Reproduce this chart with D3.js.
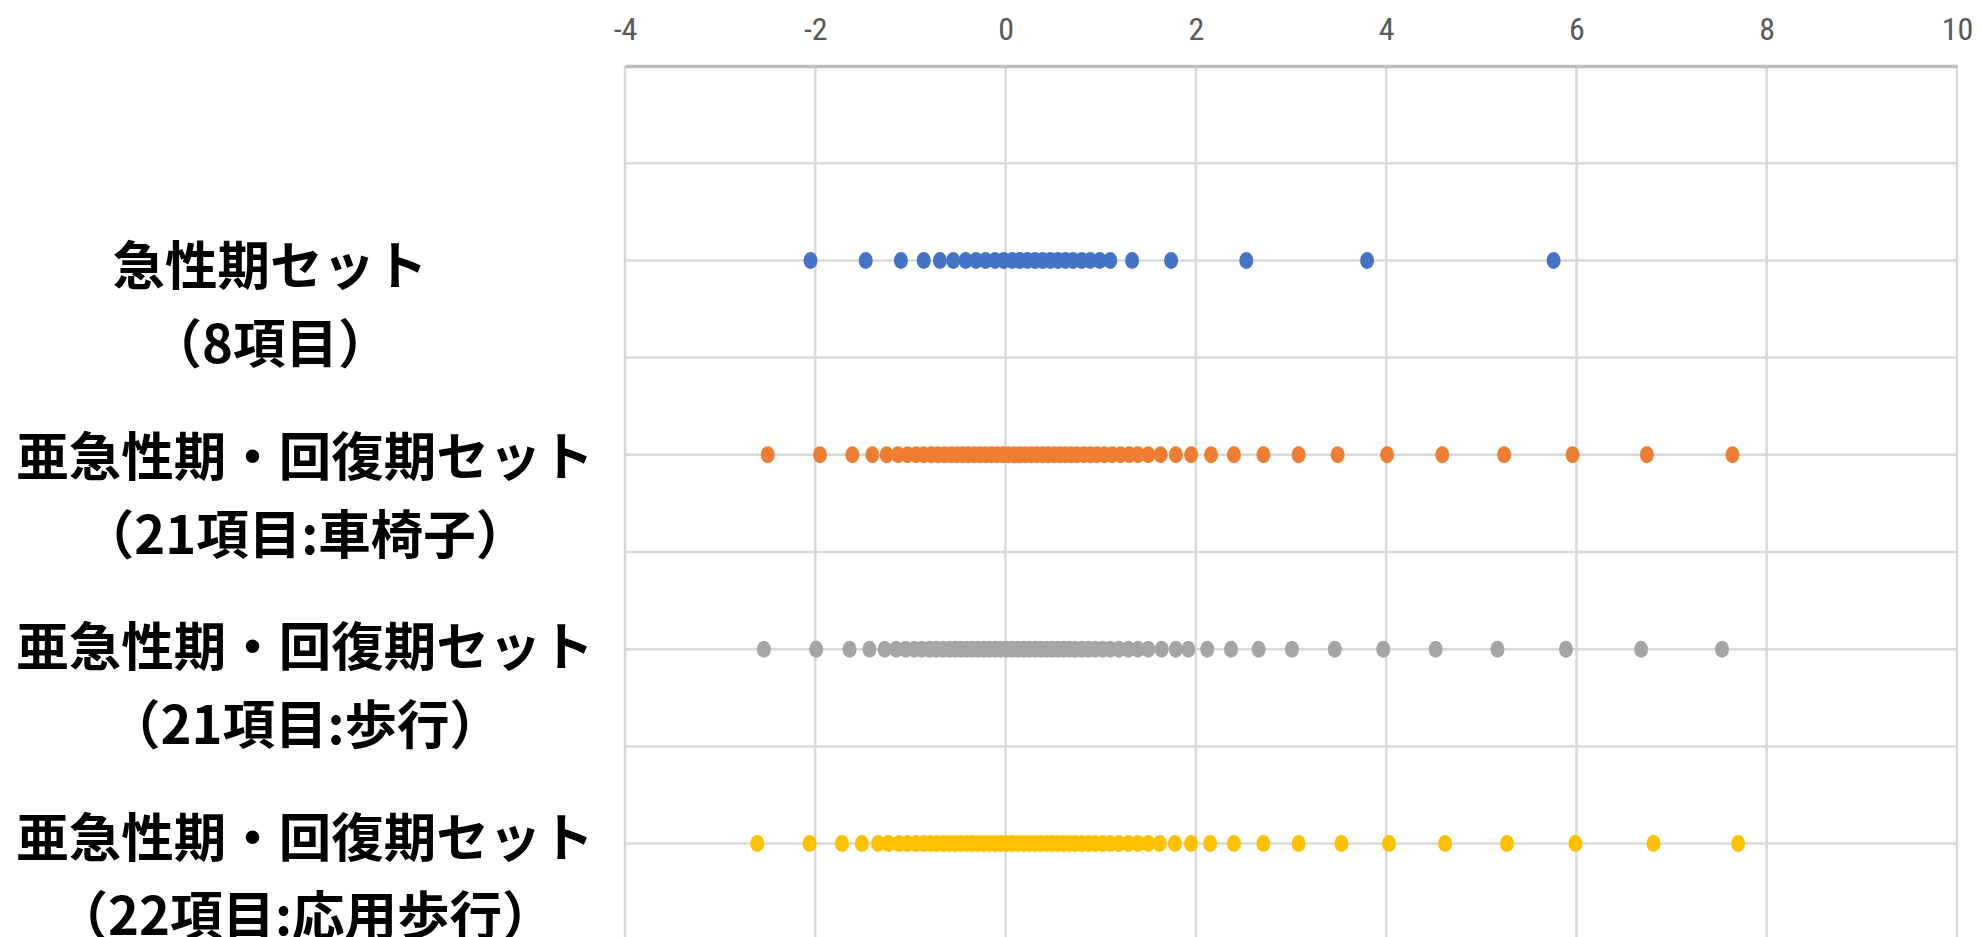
<!DOCTYPE html>
<html><head><meta charset="utf-8">
<script src="https://cdn.jsdelivr.net/npm/d3@7"></script>
<style>
html,body{margin:0;padding:0;background:#fff;overflow:hidden;}
</style>
</head><body>
<svg id="chart" width="1982" height="937"></svg>
<script>
// ---- data ----
const categoryLine1 = ["急性期セット", "亜急性期・回復期セット", "亜急性期・回復期セット", "亜急性期・回復期セット"];
const categoryLine2 = ["（8項目）", "（21項目:車椅子）", "（21項目:歩行）", "（22項目:応用歩行）"];
const categoryY = [4, 3, 2, 1];
const xTicks = [-4, -2, 0, 2, 4, 6, 8, 10];

const seriesAcute = [-2.05, -1.47, -1.10, -0.86, -0.69, -0.55, -0.42, -0.31, -0.21, -0.11, -0.02, 0.07, 0.15, 0.23, 0.31, 0.39, 0.47, 0.55, 0.63, 0.71, 0.80, 0.89, 0.99, 1.10, 1.33, 1.74, 2.53, 3.80, 5.76];
const seriesWheelchair = [-2.50, -1.95, -1.61, -1.40, -1.25, -1.13, -1.03, -0.94, -0.86, -0.78, -0.71, -0.64, -0.57, -0.51, -0.45, -0.39, -0.33, -0.27, -0.21, -0.15, -0.09, -0.03, 0.03, 0.09, 0.15, 0.21, 0.27, 0.33, 0.39, 0.45, 0.51, 0.57, 0.63, 0.69, 0.75, 0.82, 0.89, 0.96, 1.04, 1.12, 1.21, 1.30, 1.39, 1.50, 1.63, 1.79, 1.95, 2.16, 2.40, 2.71, 3.08, 3.49, 4.01, 4.59, 5.24, 5.96, 6.74, 7.64];
const seriesWalking = [-2.54, -1.99, -1.64, -1.43, -1.27, -1.15, -1.05, -0.96, -0.88, -0.80, -0.73, -0.66, -0.59, -0.53, -0.47, -0.41, -0.35, -0.29, -0.23, -0.17, -0.11, -0.05, 0.01, 0.07, 0.13, 0.19, 0.25, 0.31, 0.37, 0.43, 0.49, 0.55, 0.61, 0.67, 0.73, 0.80, 0.87, 0.94, 1.02, 1.10, 1.19, 1.29, 1.39, 1.50, 1.64, 1.79, 1.92, 2.12, 2.37, 2.66, 3.01, 3.46, 3.97, 4.52, 5.17, 5.89, 6.68, 7.53];
const seriesAppliedWalking = [-2.61, -2.06, -1.72, -1.51, -1.34, -1.23, -1.12, -1.03, -0.94, -0.86, -0.79, -0.72, -0.65, -0.59, -0.53, -0.47, -0.41, -0.35, -0.29, -0.23, -0.17, -0.11, -0.05, 0.01, 0.07, 0.13, 0.19, 0.25, 0.31, 0.37, 0.43, 0.49, 0.55, 0.61, 0.67, 0.73, 0.80, 0.87, 0.94, 1.02, 1.10, 1.19, 1.29, 1.39, 1.50, 1.62, 1.78, 1.95, 2.15, 2.40, 2.71, 3.08, 3.53, 4.03, 4.62, 5.27, 5.99, 6.81, 7.70];
const seriesColors = ["#4472C4", "#ED7D31", "#A5A5A5", "#FFC000"];

// ---- layout ----
const svg = d3.select("#chart");
const plotLeft = 625, plotRight = 1957, plotTop = 66;
const x = d3.scaleLinear().domain([-4, 10]).range([plotLeft, plotRight]);
const y = d3.scaleLinear().domain([5, 0]).range([plotTop, plotTop + 972]);

// vertical gridlines
svg.append("g").selectAll("line").data(xTicks).join("line")
  .attr("x1", d => x(d)).attr("x2", d => x(d))
  .attr("y1", y(5)).attr("y2", y(0))
  .attr("stroke", "#d9d9d9").attr("stroke-width", 2.5);

// horizontal gridlines
const yGrid = d3.range(1, 10).map(i => i * 0.5);
svg.append("g").selectAll("line").data(yGrid).join("line")
  .attr("x1", plotLeft).attr("x2", plotRight)
  .attr("y1", d => y(d)).attr("y2", d => y(d))
  .attr("stroke", "#d9d9d9").attr("stroke-width", 2.5);

// top axis
const axis = d3.axisTop(x).tickValues(xTicks).tickSize(0).tickPadding(0).tickFormat(d => String(d));
const gA = svg.append("g").attr("transform", `translate(0,${plotTop})`).call(axis);
gA.select(".domain").attr("stroke", "#bfbfbf").attr("stroke-width", 3.5);
gA.selectAll("text")
  .attr("y", -38).attr("dy", "0.36em")
  .attr("fill", "#595959")
  .style("font-family", "'Liberation Sans Narrow', 'Roboto Condensed', 'Liberation Sans', Arial, sans-serif")
  .style("font-size", "32px");

// points
const allSeries = [seriesAcute, seriesWheelchair, seriesWalking, seriesAppliedWalking];
allSeries.forEach((vals, i) => {
  svg.append("g").selectAll("ellipse").data(vals).join("ellipse")
    .attr("cx", d => x(d)).attr("cy", y(categoryY[i]))
    .attr("rx", 7).attr("ry", 8.5)
    .attr("fill", seriesColors[i]);
});

// category labels
const labelCenters = [270, 305, 305, 305];
const labelRow = d3.scaleLinear().domain([0, 3]).range([262, 834]);
const gL = svg.append("g")
  .style("font-family", "'Noto Sans CJK JP', sans-serif")
  .style("font-weight", "700")
  .style("font-size", "52.5px")
  .attr("fill", "#000")
  .attr("text-anchor", "middle");
categoryLine1.forEach((t, i) => {
  gL.append("text").attr("x", labelCenters[i]).attr("y", labelRow(i))
    .attr("dominant-baseline", "central").text(t);
  gL.append("text").attr("x", labelCenters[i]).attr("y", labelRow(i) + 78)
    .attr("dominant-baseline", "central").text(categoryLine2[i]);
});
</script>
</body></html>
